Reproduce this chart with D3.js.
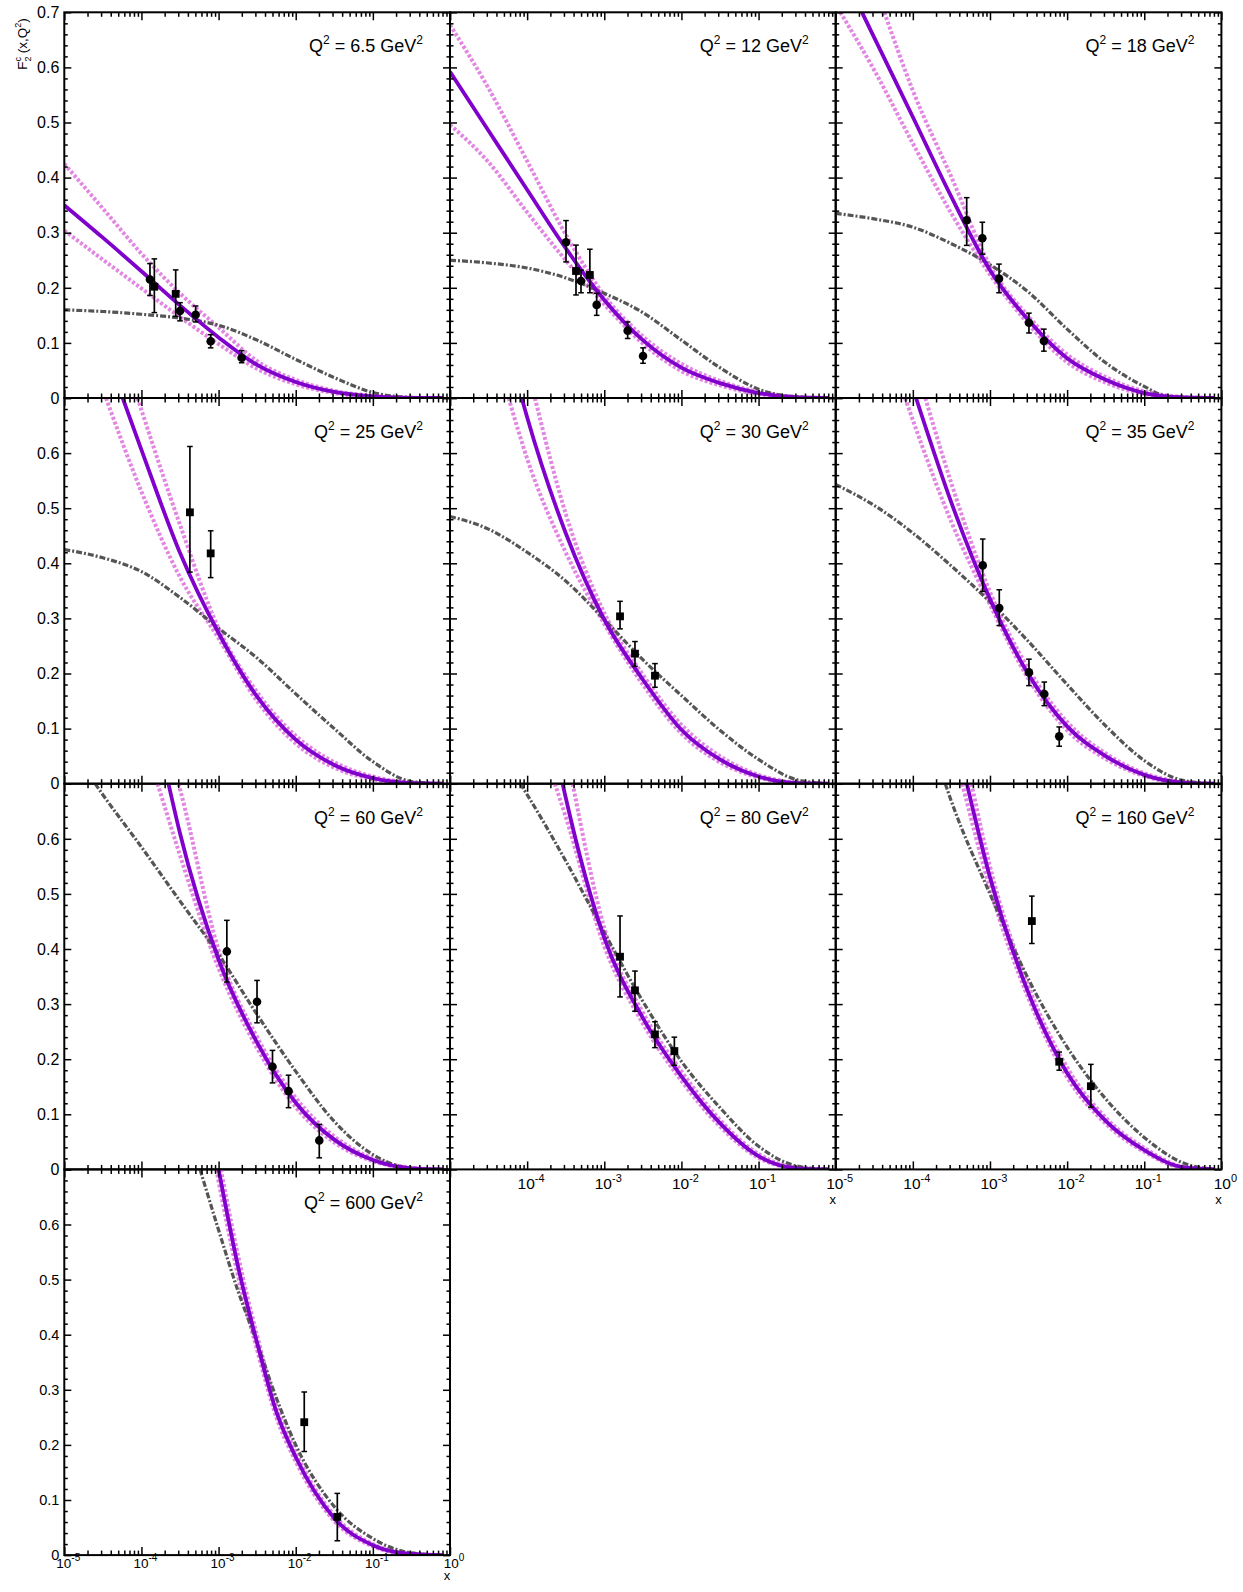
<!DOCTYPE html>
<html><head><meta charset="utf-8">
<script src="https://cdn.jsdelivr.net/npm/d3@7"></script>
<style>body{margin:0;background:#fff} svg{display:block} text{font-family:Arial,"Liberation Sans",Helvetica,sans-serif;fill:#000}</style>
</head><body><svg id="c" width="1243" height="1592"></svg>
<script>
// ---------- DATA ----------
const q2Labels = ["6.5","12","18","25","30","35","60","80","160","600"];

const centralCurves = [
 [[1e-5,0.35],[3.16e-5,0.291],[1e-4,0.23],[3.16e-4,0.168],[1e-3,0.11],[3.16e-3,0.06],[1e-2,0.029],[3.16e-2,0.011],[0.1,0.003],[0.316,0.0003],[0.8,0]],
 [[1e-5,0.592],[3.16e-5,0.485],[1e-4,0.378],[3.16e-4,0.272],[1e-3,0.178],[3.16e-3,0.105],[1e-2,0.055],[3.16e-2,0.027],[0.1,0.009],[0.316,0.001],[0.8,0]],
 [[2.19e-5,0.7],[3.16e-5,0.654],[1e-4,0.51],[3.16e-4,0.365],[1e-3,0.232],[3.16e-3,0.141],[1e-2,0.072],[3.16e-2,0.033],[0.1,0.009],[0.316,0.001],[0.8,0]],
 [[5.71e-5,0.7],[1e-4,0.606],[3.16e-4,0.419],[1e-3,0.2735],[3.16e-3,0.158],[1e-2,0.08],[3.16e-2,0.034],[0.1,0.01],[0.316,0.001],[0.8,0]],
 [[8.5e-5,0.7],[1e-4,0.665],[3.16e-4,0.455],[1e-3,0.298],[3.16e-3,0.189],[1e-2,0.098],[3.16e-2,0.044],[0.1,0.013],[0.316,0.001],[0.8,0]],
 [[1.1e-4,0.7],[3.16e-4,0.51],[1e-3,0.335],[3.16e-3,0.198],[1e-2,0.104],[3.16e-2,0.05],[0.1,0.016],[0.316,0.002],[0.8,0]],
 [[2.24e-4,0.7],[3.16e-4,0.61],[1e-3,0.381],[3.16e-3,0.23],[1e-2,0.121],[3.16e-2,0.054],[0.1,0.017],[0.316,0.002],[0.8,0]],
 [[2.88e-4,0.7],[3.16e-4,0.675],[1e-3,0.42],[3.16e-3,0.275],[1e-2,0.169],[3.16e-2,0.084],[0.1,0.024],[0.316,0.002],[0.8,0]],
 [[5.01e-4,0.7],[1e-3,0.53],[3.16e-3,0.32],[1e-2,0.175],[3.16e-2,0.088],[0.1,0.035],[0.316,0.004],[0.8,0]],
 [[1e-3,0.7],[1.78e-3,0.525],[3.16e-3,0.385],[5.62e-3,0.26],[1e-2,0.178],[3.16e-2,0.067],[0.1,0.018],[0.316,0.002],[0.8,0]]
];

const upperCurves = [
 [[1e-5,0.425],[3.16e-5,0.344],[1e-4,0.262],[3.16e-4,0.19],[1e-3,0.128],[3.16e-3,0.067],[1e-2,0.033],[3.16e-2,0.013],[0.1,0.004],[0.316,0.0004],[0.8,0]],
 [[1e-5,0.677],[3.16e-5,0.562],[1e-4,0.43],[3.16e-4,0.297],[1e-3,0.186],[3.16e-3,0.112],[1e-2,0.062],[3.16e-2,0.031],[0.1,0.011],[0.316,0.002],[0.8,0]],
 [[4.27e-5,0.7],[1e-4,0.558],[3.16e-4,0.401],[1e-3,0.24],[3.16e-3,0.148],[1e-2,0.079],[3.16e-2,0.038],[0.1,0.012],[0.316,0.002],[0.8,0]],
 [[8.9e-5,0.7],[3.16e-4,0.47],[1e-3,0.282],[3.16e-3,0.166],[1e-2,0.087],[3.16e-2,0.039],[0.1,0.013],[0.316,0.002],[0.8,0]],
 [[1.26e-4,0.7],[3.16e-4,0.49],[1e-3,0.31],[3.16e-3,0.198],[1e-2,0.107],[3.16e-2,0.05],[0.1,0.016],[0.316,0.002],[0.8,0]],
 [[1.45e-4,0.7],[3.16e-4,0.545],[1e-3,0.348],[3.16e-3,0.208],[1e-2,0.112],[3.16e-2,0.055],[0.1,0.019],[0.316,0.003],[0.8,0]],
 [[3.02e-4,0.7],[3.16e-4,0.69],[1e-3,0.398],[3.16e-3,0.24],[1e-2,0.13],[3.16e-2,0.06],[0.1,0.02],[0.316,0.003],[0.8,0]],
 [[3.89e-4,0.7],[1e-3,0.438],[3.16e-3,0.285],[1e-2,0.178],[3.16e-2,0.09],[0.1,0.028],[0.316,0.003],[0.8,0]],
 [[5.75e-4,0.7],[1e-3,0.55],[3.16e-3,0.332],[1e-2,0.185],[3.16e-2,0.094],[0.1,0.039],[0.316,0.005],[0.8,0]],
 [[1.07e-3,0.7],[1.78e-3,0.545],[3.16e-3,0.398],[5.62e-3,0.272],[1e-2,0.186],[3.16e-2,0.072],[0.1,0.02],[0.316,0.002],[0.8,0]]
];

const lowerCurves = [
 [[1e-5,0.304],[3.16e-5,0.251],[1e-4,0.199],[3.16e-4,0.147],[1e-3,0.098],[3.16e-3,0.053],[1e-2,0.025],[3.16e-2,0.009],[0.1,0.002],[0.316,0.0002],[0.8,0]],
 [[1e-5,0.496],[3.16e-5,0.428],[1e-4,0.337],[3.16e-4,0.25],[1e-3,0.17],[3.16e-3,0.099],[1e-2,0.049],[3.16e-2,0.023],[0.1,0.007],[0.316,0.001],[0.8,0]],
 [[1.15e-5,0.7],[3.16e-5,0.595],[1e-4,0.462],[3.16e-4,0.335],[1e-3,0.224],[3.16e-3,0.134],[1e-2,0.065],[3.16e-2,0.028],[0.1,0.007],[0.316,0.001],[0.8,0]],
 [[3.47e-5,0.7],[1e-4,0.53],[3.16e-4,0.375],[1e-3,0.264],[3.16e-3,0.15],[1e-2,0.073],[3.16e-2,0.029],[0.1,0.008],[0.316,0.001],[0.8,0]],
 [[5.75e-5,0.7],[1e-4,0.59],[3.16e-4,0.42],[1e-3,0.29],[3.16e-3,0.18],[1e-2,0.091],[3.16e-2,0.039],[0.1,0.011],[0.316,0.001],[0.8,0]],
 [[7.94e-5,0.7],[1e-4,0.66],[3.16e-4,0.475],[1e-3,0.325],[3.16e-3,0.19],[1e-2,0.097],[3.16e-2,0.045],[0.1,0.014],[0.316,0.001],[0.8,0]],
 [[1.62e-4,0.7],[3.16e-4,0.57],[1e-3,0.365],[3.16e-3,0.22],[1e-2,0.113],[3.16e-2,0.049],[0.1,0.015],[0.316,0.002],[0.8,0]],
 [[2.29e-4,0.7],[3.16e-4,0.64],[1e-3,0.405],[3.16e-3,0.265],[1e-2,0.161],[3.16e-2,0.078],[0.1,0.021],[0.316,0.002],[0.8,0]],
 [[4.37e-4,0.7],[1e-3,0.51],[3.16e-3,0.31],[1e-2,0.167],[3.16e-2,0.083],[0.1,0.032],[0.316,0.003],[0.8,0]],
 [[9.33e-4,0.7],[1.78e-3,0.508],[3.16e-3,0.372],[5.62e-3,0.25],[1e-2,0.17],[3.16e-2,0.062],[0.1,0.016],[0.316,0.001],[0.8,0]]
];

const grayCurves = [
 [[1e-5,0.16],[3.16e-5,0.157],[1e-4,0.152],[3.16e-4,0.145],[1e-3,0.132],[3.16e-3,0.105],[1e-2,0.07],[3.16e-2,0.037],[0.1,0.01],[0.316,0.001],[0.8,0]],
 [[1e-5,0.25],[3.16e-5,0.245],[1e-4,0.236],[3.16e-4,0.218],[1e-3,0.19],[3.16e-3,0.155],[1e-2,0.105],[3.16e-2,0.055],[0.1,0.016],[0.316,0.002],[0.8,0]],
 [[1e-5,0.335],[3.16e-5,0.325],[1e-4,0.31],[3.16e-4,0.28],[1e-3,0.242],[3.16e-3,0.192],[1e-2,0.125],[3.16e-2,0.064],[0.1,0.021],[0.2,0.003],[0.8,0]],
 [[1e-5,0.425],[3.16e-5,0.41],[1e-4,0.385],[3.16e-4,0.338],[1e-3,0.282],[3.16e-3,0.228],[1e-2,0.163],[3.16e-2,0.1],[0.1,0.04],[0.316,0.004],[0.8,0]],
 [[1e-5,0.485],[3.16e-5,0.462],[1e-4,0.42],[3.16e-4,0.368],[1e-3,0.298],[3.16e-3,0.225],[1e-2,0.16],[3.16e-2,0.097],[0.1,0.044],[0.316,0.007],[0.8,0]],
 [[1e-5,0.543],[3.16e-5,0.505],[1e-4,0.455],[3.16e-4,0.395],[1e-3,0.33],[3.16e-3,0.258],[1e-2,0.18],[3.16e-2,0.105],[0.1,0.042],[0.316,0.006],[0.8,0]],
 [[2.51e-5,0.7],[3.16e-5,0.68],[1e-4,0.585],[3.16e-4,0.487],[1e-3,0.39],[3.16e-3,0.281],[1e-2,0.178],[3.16e-2,0.087],[0.1,0.027],[0.316,0.002],[0.8,0]],
 [[8.13e-5,0.7],[1e-4,0.68],[3.16e-4,0.56],[1e-3,0.43],[3.16e-3,0.305],[1e-2,0.196],[3.16e-2,0.112],[0.1,0.042],[0.316,0.006],[0.8,0]],
 [[2.63e-4,0.7],[3.16e-4,0.668],[1e-3,0.5],[3.16e-3,0.345],[1e-2,0.222],[3.16e-2,0.128],[0.1,0.058],[0.316,0.012],[0.8,0]],
 [[5.75e-4,0.7],[1e-3,0.59],[1.78e-3,0.48],[3.16e-3,0.385],[5.62e-3,0.285],[1e-2,0.2],[3.16e-2,0.088],[0.1,0.03],[0.316,0.004],[0.8,0]]
];

// [x, F2c, lower error, upper error, marker]
const dataPoints = [
 [[1.29e-4,0.215,0.186,0.244,"c"],[1.47e-4,0.202,0.155,0.2525,"s"],[2.78e-4,0.189,0.148,0.2325,"s"],[3.16e-4,0.158,0.14,0.173,"c"],[5.04e-4,0.151,0.138,0.167,"c"],[7.9e-4,0.103,0.091,0.115,"c"],[1.99e-3,0.073,0.064,0.086,"c"]],
 [[3.19e-4,0.2826,0.247,0.322,"c"],[4.3e-4,0.2305,0.187,0.2775,"s"],[4.99e-4,0.2124,0.191,0.232,"c"],[6.5e-4,0.2233,0.191,0.27,"s"],[7.97e-4,0.169,0.15,0.19,"c"],[2.01e-3,0.1222,0.108,0.138,"c"],[3.18e-3,0.0763,0.063,0.091,"c"]],
 [[4.99e-4,0.3225,0.277,0.3636,"c"],[7.96e-4,0.29,0.261,0.319,"c"],[1.31e-3,0.2166,0.191,0.243,"c"],[3.2e-3,0.1367,0.118,0.154,"c"],[5.0e-3,0.1034,0.085,0.125,"c"]],
 [[4.25e-4,0.4925,0.384,0.612,"s"],[7.9e-4,0.418,0.374,0.459,"s"]],
 [[1.6e-3,0.3037,0.281,0.331,"s"],[2.5e-3,0.236,0.213,0.258,"s"],[4.54e-3,0.196,0.175,0.218,"s"]],
 [[8.05e-4,0.3962,0.349,0.444,"c"],[1.32e-3,0.3188,0.287,0.352,"c"],[3.2e-3,0.202,0.178,0.226,"c"],[5.06e-3,0.1627,0.1416,0.1845,"c"],[7.9e-3,0.0859,0.068,0.103,"c"]],
 [[1.28e-3,0.3956,0.34,0.452,"c"],[3.15e-3,0.3042,0.266,0.343,"c"],[5.0e-3,0.1863,0.157,0.216,"c"],[8.07e-3,0.142,0.112,0.171,"c"],[2.02e-2,0.0526,0.021,0.0817,"c"]],
 [[1.6e-3,0.386,0.313,0.46,"s"],[2.5e-3,0.325,0.287,0.36,"s"],[4.54e-3,0.245,0.221,0.268,"s"],[8.1e-3,0.2148,0.189,0.24,"s"]],
 [[3.49e-3,0.4507,0.41,0.496,"s"],[7.9e-3,0.1954,0.18,0.213,"s"],[2.03e-2,0.151,0.113,0.1906,"s"]],
 [[1.29e-2,0.2412,0.188,0.296,"s"],[3.46e-2,0.0693,0.026,0.112,"s"]]
];

const xTickExps = [-5,-4,-3,-2,-1,0];
const yMajorTicks = [0,0.1,0.2,0.3,0.4,0.5,0.6,0.7];

// ---------- LAYOUT ----------
const left0 = 64.3, top0 = 12.3, pw = 385.7, ph = 385.7;
const svg = d3.select("#c");
const defs = svg.append("defs");

const cCentral = "#8000cc", cBand = "#e386e3", cGray = "#555555";

const xMinor = [];
for (let e = -5; e < 0; e++) for (let m = 2; m <= 9; m++) xMinor.push(m * Math.pow(10, e));
const yMinor = d3.range(0, 36).map(k => k * 0.02).filter(v => v <= 0.7001 && Math.abs(v * 10 - Math.round(v * 10)) > 1e-6);

function supLabel(sel, base, exp, fsSup, raise) {
  sel.append("tspan").text(base);
  sel.append("tspan").attr("font-size", fsSup).attr("dy", -raise).text(exp);
}

q2Labels.forEach((q, i) => {
  const col = i % 3, row = Math.floor(i / 3);
  const x0 = left0 + col * pw, y0 = top0 + row * ph;
  const x = d3.scaleLog().domain([1e-5, 1]).range([x0, x0 + pw]);
  const y = d3.scaleLinear().domain([0, 0.7]).range([y0 + ph, y0]);
  const g = svg.append("g");

  defs.append("clipPath").attr("id", "clip" + i)
    .append("rect").attr("x", x0).attr("y", y0).attr("width", pw).attr("height", ph);

  const line = d3.line().x(d => x(d[0])).y(d => y(d[1])).curve(d3.curveMonotoneX);
  const cg = g.append("g").attr("clip-path", `url(#clip${i})`);
  [upperCurves[i], lowerCurves[i]].forEach(c => {
    cg.append("path").datum(c).attr("d", line).attr("fill", "none")
      .attr("stroke", cBand).attr("stroke-width", 4).attr("stroke-dasharray", "3,2");
  });
  cg.append("path").datum(grayCurves[i]).attr("d", line).attr("fill", "none")
    .attr("stroke", cGray).attr("stroke-width", 3.2).attr("stroke-dasharray", "6,2,2,2");
  cg.append("path").datum(centralCurves[i]).attr("d", line).attr("fill", "none")
    .attr("stroke", cCentral).attr("stroke-width", 3.8);

  // data
  const dg = g.append("g");
  dataPoints[i].forEach(p => {
    const px = x(p[0]);
    dg.append("line").attr("x1", px).attr("x2", px).attr("y1", y(p[2])).attr("y2", y(p[3]))
      .attr("stroke", "#000").attr("stroke-width", 1.7);
    [p[2], p[3]].forEach(v => dg.append("line").attr("x1", px - 2.8).attr("x2", px + 2.8)
      .attr("y1", y(v)).attr("y2", y(v)).attr("stroke", "#000").attr("stroke-width", 1.5));
    if (p[4] === "c") dg.append("circle").attr("cx", px).attr("cy", y(p[1])).attr("r", 4.3).attr("fill", "#000");
    else dg.append("rect").attr("x", px - 3.9).attr("y", y(p[1]) - 3.9).attr("width", 7.8).attr("height", 7.8).attr("fill", "#000");
  });

  // ticks
  const tg = g.append("g");
  const noLbl = () => "";
  const addAxis = (axis, tr) => {
    const a = tg.append("g").attr("transform", tr).call(axis);
    a.select(".domain").remove();
    a.selectAll("line").attr("stroke", "#000").attr("stroke-width", 1.5);
    a.selectAll("text").remove();
  };
  const majX = xTickExps.map(e => Math.pow(10, e));
  addAxis(d3.axisBottom(x).tickValues(majX).tickSize(-8).tickFormat(noLbl), `translate(0,${y0 + ph})`);
  addAxis(d3.axisBottom(x).tickValues(xMinor).tickSize(-4.5).tickFormat(noLbl), `translate(0,${y0 + ph})`);
  addAxis(d3.axisTop(x).tickValues(majX).tickSize(-8).tickFormat(noLbl), `translate(0,${y0})`);
  addAxis(d3.axisTop(x).tickValues(xMinor).tickSize(-4.5).tickFormat(noLbl), `translate(0,${y0})`);
  addAxis(d3.axisLeft(y).tickValues(yMajorTicks).tickSize(-7).tickFormat(noLbl), `translate(${x0},0)`);
  addAxis(d3.axisLeft(y).tickValues(yMinor).tickSize(-3.5).tickFormat(noLbl), `translate(${x0},0)`);
  addAxis(d3.axisRight(y).tickValues(yMajorTicks).tickSize(-7).tickFormat(noLbl), `translate(${x0 + pw},0)`);
  addAxis(d3.axisRight(y).tickValues(yMinor).tickSize(-3.5).tickFormat(noLbl), `translate(${x0 + pw},0)`);

  g.append("rect").attr("x", x0).attr("y", y0).attr("width", pw).attr("height", ph)
    .attr("fill", "none").attr("stroke", "#000").attr("stroke-width", 2);

  // Q2 label
  const t = g.append("text").attr("x", x0 + pw - 27).attr("y", y0 + 40)
    .attr("text-anchor", "end").attr("font-size", 18);
  t.append("tspan").text("Q");
  t.append("tspan").attr("font-size", 12).attr("dy", -8).text("2");
  t.append("tspan").attr("dy", 8).text(" = " + q + " GeV");
  t.append("tspan").attr("font-size", 12).attr("dy", -8).text("2");

  // y tick labels
  if (col === 0) {
    const fs = row === 3 ? 14.5 : 16;
    const vals = row === 0 ? yMajorTicks : yMajorTicks.slice(0, 7);
    vals.forEach(v => {
      g.append("text").attr("x", x0 - 5).attr("y", y(v)).attr("dy", "0.36em")
        .attr("text-anchor", "end").attr("font-size", fs).text(v === 0 ? "0" : v.toFixed(1));
    });
  }
  // x tick labels
  let exps = null, off = 19.5;
  if (row === 3 && col === 0) { exps = xTickExps; off = 13; }
  if (row === 2 && col === 1) exps = [-4, -3, -2, -1];
  if (row === 2 && col === 2) exps = xTickExps;
  if (exps) {
    exps.forEach(e => {
      const tt = g.append("text").attr("x", x(Math.pow(10, e)) + 4).attr("y", y0 + ph + off)
        .attr("text-anchor", "middle").attr("font-size", row === 3 ? 13.5 : 15.5);
      supLabel(tt, "10", String(e), row === 3 ? 10 : 11, 7);
    });
    g.append("text").attr("x", x0 + pw - 3).attr("y", y0 + ph + off + (row === 3 ? 12 : 15))
      .attr("text-anchor", "middle").attr("font-size", 13).text("x");
  }
});

// y axis title
const yt = svg.append("text").attr("transform", "translate(27,44) rotate(-90)")
  .attr("text-anchor", "middle").attr("font-size", 13.5);
yt.append("tspan").text("F");
yt.append("tspan").attr("font-size", 9).attr("dy", 4).text("2");
yt.append("tspan").attr("font-size", 9).attr("dx", -5).attr("dy", -10).text("c");
yt.append("tspan").attr("dy", 6).text(" (x,Q");
yt.append("tspan").attr("font-size", 9).attr("dy", -6).text("2");
yt.append("tspan").attr("dy", 6).text(")");
</script>
</body></html>
